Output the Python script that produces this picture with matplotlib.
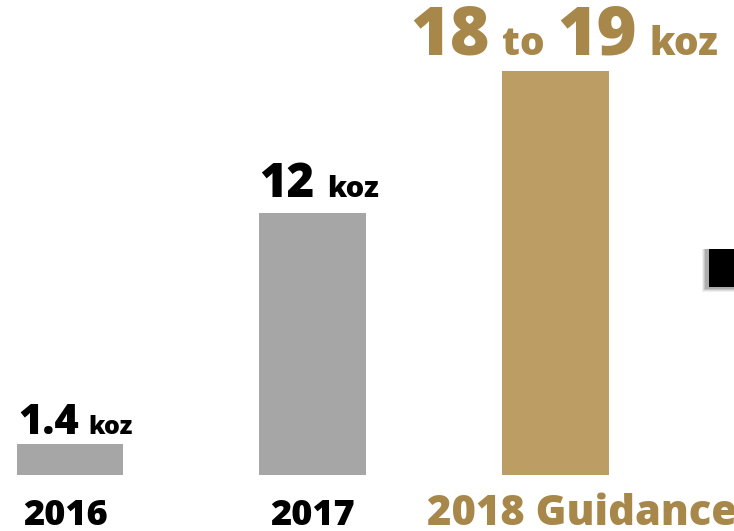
import matplotlib
matplotlib.use("Agg")
import matplotlib.pyplot as plt
from matplotlib.offsetbox import TextArea, HPacker, AnnotationBbox
from matplotlib.patches import Rectangle

# production, thousand ounces
years = ["2016", "2017", "2018 Guidance"]
production = [1.4, 12, 18.5]          # 2018 bar drawn at the guidance midpoint
guidance_low, guidance_high = 18, 19

GREY = "#A6A6A6"
GOLD_BAR = "#BC9E64"
GOLD_TEXT = "#A8884A"
FONT = "Open Sans"
WEIGHT = 800

fig = plt.figure(figsize=(7.34, 5.31), dpi=100)
ax = fig.add_axes([0, 0, 1, 1])
ax.set_xlim(-0.288, 2.733)
ax.set_ylim(-2.564, 21.75)
ax.axis("off")

xs = list(range(len(years)))
bar_colors = [GREY, GREY, GOLD_BAR]
ax.bar(xs, production, width=0.44, color=bar_colors, zorder=2)


def label(parts, color, sep):
    boxes = [TextArea(txt, textprops=dict(fontsize=size, fontweight=WEIGHT,
                                          family=FONT, color=color))
             for txt, size in parts]
    return HPacker(children=boxes, align="baseline", pad=0, sep=sep)


def put(box, x, y, dx, dy, halign):
    ab = AnnotationBbox(box, (x, y), xybox=(dx, dy), xycoords="data",
                        boxcoords="offset points", box_alignment=(halign, 0),
                        frameon=False, pad=0)
    ax.add_artist(ab)


# value labels above the bars
put(label([(f"{production[0]}", 30), ("koz", 18)], "black", 7),
    xs[0] - 0.22, production[0], 1, 0, 0)
put(label([(f"{production[1]:g}", 34), ("koz", 21)], "black", 9),
    xs[1] - 0.22, production[1], 0, 3, 0)
put(label([(f"{guidance_low}", 49), ("to", 28), (f"{guidance_high}", 49),
           ("koz", 28)], GOLD_TEXT, 9),
    xs[2], production[2], 6, 0, 0.5)

# year labels along the bottom
cat_style = [(26, "black", -3), (26, "black", 0), (30, GOLD_TEXT, 19)]
for x, name, (size, col, shift) in zip(xs, years, cat_style):
    ax.annotate(name, (x, 0), xycoords=("data", "axes fraction"),
                xytext=(shift, 4), textcoords="offset points",
                ha="center", va="baseline", fontsize=size,
                fontweight=WEIGHT, family=FONT, color=col)

# arrow stub on the right edge with a soft drop shadow
for i, a in enumerate([0.06, 0.08, 0.10, 0.12]):
    g = 4 - i
    fig.patches.append(Rectangle((0.962 - g / 734, 0.457 - g / 531),
                                 0.06, 0.074 + g / 531,
                                 transform=fig.transFigure,
                                 color="black", alpha=a, lw=0))
fig.patches.append(Rectangle((0.966, 0.4595), 0.05, 0.0715,
                             transform=fig.transFigure, color="black", lw=0))

fig.savefig("out.png", dpi=100, facecolor="white")
